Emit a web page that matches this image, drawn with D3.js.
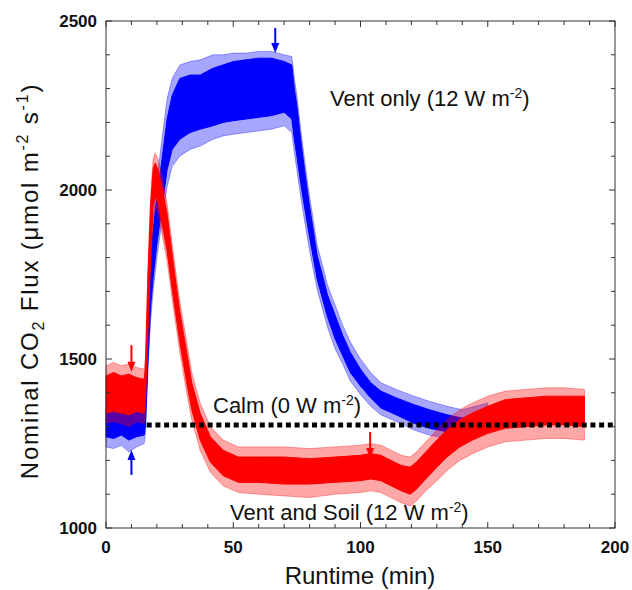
<!DOCTYPE html>
<html>
<head>
<meta charset="UTF-8">
<title>CO2 flux</title>
<script src="https://cdn.jsdelivr.net/npm/d3@7"></script>
<style>
  body { margin: 0; background: #fff; }
  text { font-family: "Liberation Sans", Arial, sans-serif; fill: #111; }
  .tick-label { font-size: 17px; font-weight: bold; }
</style>
</head>
<body>
<svg width="632" height="590"></svg>
<script>
// vent only (blue): runtime, dense part of the noisy trace, and extent of its spikes
var ventT   = [0, 3, 6, 9, 12, 15, 15.5, 16.5, 17.5, 18.5, 20, 22, 24, 26, 29, 33, 37, 42, 46, 50, 55, 60, 65, 70, 73, 74, 75, 76.5, 78, 80, 83, 85, 87, 90, 93, 96, 100, 104, 108, 114, 121, 127, 134, 140, 145, 150];
var ventLo  = [1270, 1265, 1275, 1260, 1270, 1275, 1300, 1500, 1650, 1740, 1840, 1950, 2060, 2120, 2150, 2170, 2180, 2190, 2200, 2205, 2210, 2215, 2220, 2230, 2210, 2150, 2100, 2020, 1950, 1860, 1735, 1680, 1625, 1560, 1510, 1460, 1420, 1385, 1355, 1335, 1310, 1295, 1285, 1275, 1285, 1295];
var ventHi  = [1350, 1355, 1350, 1345, 1350, 1345, 1400, 1640, 1780, 1880, 1980, 2090, 2210, 2280, 2330, 2340, 2340, 2360, 2370, 2380, 2385, 2390, 2390, 2380, 2370, 2300, 2250, 2150, 2060, 1950, 1805, 1750, 1690, 1630, 1570, 1520, 1470, 1430, 1405, 1385, 1365, 1350, 1335, 1325, 1335, 1345];
var ventMin = [1240, 1235, 1245, 1225, 1240, 1250, 1280, 1470, 1610, 1700, 1800, 1910, 2010, 2070, 2100, 2120, 2130, 2150, 2160, 2165, 2170, 2175, 2180, 2190, 2170, 2110, 2060, 1980, 1910, 1820, 1705, 1650, 1595, 1530, 1485, 1435, 1395, 1360, 1335, 1315, 1290, 1275, 1265, 1260, 1270, 1280];
var ventMax = [1380, 1385, 1375, 1370, 1380, 1370, 1430, 1680, 1820, 1920, 2030, 2150, 2270, 2330, 2370, 2380, 2385, 2400, 2400, 2405, 2405, 2410, 2410, 2400, 2395, 2330, 2280, 2180, 2090, 1980, 1835, 1780, 1720, 1660, 1600, 1550, 1500, 1460, 1430, 1410, 1390, 1375, 1360, 1350, 1360, 1370];

// vent and soil (red)
var soilT   = [0, 3, 6, 9, 12, 15, 15.5, 16.5, 17.5, 18.5, 19.3, 20.5, 22, 24, 26.5, 29, 31.7, 33.7, 37, 41, 46, 52, 60, 70, 80, 90, 100, 104, 108, 112, 116, 119.5, 122, 125, 130, 134, 139, 144, 150, 157, 165, 173, 180, 188];
var soilLo  = [1340, 1345, 1340, 1335, 1345, 1340, 1380, 1600, 1800, 1950, 1980, 1960, 1900, 1820, 1680, 1550, 1430, 1350, 1260, 1195, 1155, 1135, 1135, 1130, 1130, 1135, 1140, 1145, 1140, 1125, 1110, 1100, 1115, 1140, 1180, 1210, 1240, 1260, 1280, 1295, 1300, 1305, 1305, 1300];
var soilHi  = [1450, 1460, 1450, 1455, 1445, 1440, 1480, 1750, 1950, 2060, 2080, 2060, 2010, 1930, 1780, 1640, 1520, 1430, 1340, 1270, 1230, 1210, 1210, 1210, 1205, 1210, 1215, 1220, 1215, 1200, 1185, 1180, 1195, 1220, 1260, 1290, 1320, 1340, 1360, 1380, 1385, 1390, 1390, 1390];
var soilMin = [1310, 1315, 1310, 1300, 1315, 1310, 1350, 1560, 1760, 1910, 1950, 1930, 1870, 1790, 1650, 1520, 1400, 1320, 1230, 1165, 1125, 1105, 1100, 1095, 1090, 1100, 1105, 1110, 1105, 1090, 1075, 1065, 1080, 1105, 1140, 1170, 1200, 1220, 1240, 1255, 1260, 1265, 1265, 1260];
var soilMax = [1480, 1490, 1480, 1485, 1475, 1470, 1510, 1780, 1980, 2090, 2110, 2090, 2040, 1960, 1810, 1670, 1550, 1460, 1370, 1300, 1260, 1240, 1240, 1240, 1235, 1240, 1245, 1250, 1245, 1230, 1215, 1210, 1225, 1250, 1290, 1320, 1350, 1370, 1390, 1405, 1410, 1415, 1415, 1410];

// calm reference level (0 W m-2)
var calmT = [16, 200];
var calmV = [1305, 1305];

// arrows: runtime, tail value, head value
var arrowT    = [10, 10, 66.5, 103.8];
var arrowFrom = [1541, 1157, 2479, 1284];
var arrowTo   = [1462, 1231, 2405, 1207];
var arrowCol  = ["red", "blue", "blue", "red"];

var xTicks = [0, 50, 100, 150, 200];
var yTicks = [1000, 1500, 2000, 2500];

var svg = d3.select("svg");
var x = d3.scaleLinear().domain([0, 200]).range([106, 615]);
var y = d3.scaleLinear().domain([1000, 2500]).range([528, 21]);

function band(T, lo, hi, color, op) {
  var rows = T.map(function(t, i) { return { t: t, lo: lo[i], hi: hi[i] }; });
  var area = d3.area()
    .x(function(d) { return x(d.t); })
    .y0(function(d) { return y(d.lo); })
    .y1(function(d) { return y(d.hi); });
  svg.append("path").datum(rows)
    .attr("d", area)
    .attr("fill", color)
    .attr("fill-opacity", op)
    .attr("stroke", color)
    .attr("stroke-opacity", op)
    .attr("stroke-width", 1);
}
band(ventT, ventMin, ventMax, "#0000ff", 0.35);
band(ventT, ventLo, ventHi, "#0000ff", 1);
band(soilT, soilMin, soilMax, "#ff0000", 0.35);
band(soilT, soilLo, soilHi, "#ff0000", 1);

// dotted calm line
svg.append("path")
  .datum(calmT.map(function(t, i) { return [t, calmV[i]]; }))
  .attr("d", d3.line().x(function(d) { return x(d[0]); }).y(function(d) { return y(d[1]); }))
  .attr("stroke", "#000").attr("stroke-width", 5)
  .attr("stroke-dasharray", "5,3.7").attr("fill", "none");

// arrows
arrowT.forEach(function(t, i) {
  var x0 = x(t), y0 = y(arrowFrom[i]), y1 = y(arrowTo[i]);
  var dir = y1 > y0 ? 1 : -1;
  var c = arrowCol[i] == "red" ? "#ff0000" : "#0000ff";
  svg.append("line").attr("x1", x0).attr("x2", x0)
    .attr("y1", y0).attr("y2", y1 - dir * 8)
    .attr("stroke", c).attr("stroke-width", 2);
  svg.append("path")
    .attr("d", "M" + (x0 - 4) + "," + (y1 - dir * 10) + "L" + (x0 + 4) + "," + (y1 - dir * 10) + "L" + x0 + "," + y1 + "Z")
    .attr("fill", c);
});

// frame and ticks on all sides
svg.append("rect").attr("x", x(0)).attr("y", y(2500))
  .attr("width", x(200) - x(0)).attr("height", y(1000) - y(2500))
  .attr("fill", "none").attr("stroke", "#333").attr("stroke-width", 1);

var xMinor = d3.range(0, 201, 10), yMinor = d3.range(1000, 2501, 100);
var g = svg.append("g").attr("stroke", "#333").attr("stroke-width", 1);
xMinor.forEach(function(t) {
  var len = t % 50 == 0 ? 6 : 4;
  g.append("line").attr("x1", x(t)).attr("x2", x(t)).attr("y1", y(1000)).attr("y2", y(1000) - len);
  g.append("line").attr("x1", x(t)).attr("x2", x(t)).attr("y1", y(2500)).attr("y2", y(2500) + len);
});
yMinor.forEach(function(v) {
  var len = v % 500 == 0 ? 6 : 4;
  g.append("line").attr("x1", x(0)).attr("x2", x(0) + len).attr("y1", y(v)).attr("y2", y(v));
  g.append("line").attr("x1", x(200)).attr("x2", x(200) - len).attr("y1", y(v)).attr("y2", y(v));
});

svg.selectAll(".xl").data(xTicks).enter().append("text")
  .attr("class", "tick-label").attr("text-anchor", "middle")
  .attr("x", function(d) { return x(d); }).attr("y", y(1000) + 25)
  .text(function(d) { return d; });
svg.selectAll(".yl").data(yTicks).enter().append("text")
  .attr("class", "tick-label").attr("text-anchor", "end")
  .attr("x", x(0) - 9).attr("y", function(d) { return y(d) + 6; })
  .text(function(d) { return d; });

// titles
svg.append("text").attr("x", 360).attr("y", 584).attr("text-anchor", "middle")
  .style("font-size", "24px").text("Runtime (min)");

var yt = svg.append("text").attr("transform", "translate(38,281) rotate(-90)")
  .attr("text-anchor", "middle").style("font-size", "24px").style("letter-spacing", "1.8px");
yt.append("tspan").text("Nominal CO");
yt.append("tspan").attr("dy", 6).style("font-size", "16px").text("2");
yt.append("tspan").attr("dy", -6).text(" Flux (\u03bcmol m");
yt.append("tspan").attr("dy", -10).style("font-size", "16px").text("-2");
yt.append("tspan").attr("dy", 10).text(" s");
yt.append("tspan").attr("dy", -10).style("font-size", "16px").text("-1");
yt.append("tspan").attr("dy", 10).text(")");

// annotations
function label(tx, ty, main) {
  var t = svg.append("text").attr("x", tx).attr("y", ty).style("font-size", "22px");
  t.append("tspan").text(main);
  t.append("tspan").attr("dy", -8).style("font-size", "14px").text("-2");
  t.append("tspan").attr("dy", 8).text(")");
}
label(330, 106, "Vent only (12 W m");
label(213, 413, "Calm (0 W m");
label(230, 520, "Vent and Soil (12 W m");
</script>
</body>
</html>
